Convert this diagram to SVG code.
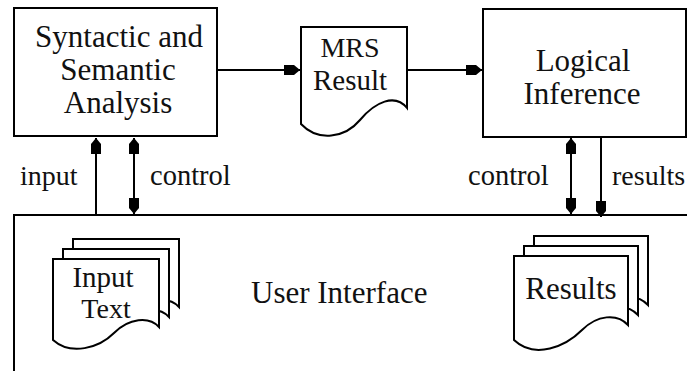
<svg xmlns="http://www.w3.org/2000/svg" width="687" height="371" viewBox="0 0 687 371">
<style>
.box{fill:#fff;stroke:#000;stroke-width:2}
.doc{fill:#fff;stroke:#000;stroke-width:2}
.ln{fill:none;stroke:#000;stroke-width:2}
text{fill:#111;font-family:'Liberation Serif','Times New Roman',serif}
.t{font-size:31px;text-anchor:middle}
.s{font-size:28px}
</style>
<defs>
<marker id="ah" viewBox="-17 -6 18 12" refX="0" refY="0" markerWidth="18" markerHeight="12" markerUnits="userSpaceOnUse" orient="auto-start-reverse">
<path d="M0,0 L-6,-5 L-16,-5 L-16,5 L-6,5 Z" fill="#000"/>
</marker>
<path id="docIT" d="M0,0 H106 V68 C96,57 76,59 61,74 C46,89 18,97 0,81 Z"/>
<path id="docR" d="M0,0 H114 V69 C103,57 83,59 68,74 C52,90 21,104 0,84 Z"/>
</defs>

<g id="user-interface">
<rect class="box" x="14" y="215" width="700" height="200"/>
<text x="251" y="303" style="font-size:31px">User Interface</text>
</g>

<g id="input-text">
<use href="#docIT" class="doc" x="73" y="239"/>
<use href="#docIT" class="doc" x="63" y="249"/>
<use href="#docIT" class="doc" x="53" y="259"/>
<text class="t" x="103" y="287" style="font-size:29px">Input</text>
<text class="t" x="106" y="318" style="font-size:28px">Text</text>
</g>

<g id="results">
<use href="#docR" class="doc" x="534" y="236"/>
<use href="#docR" class="doc" x="524" y="246"/>
<use href="#docR" class="doc" x="514" y="256"/>
<text class="t" x="571" y="299">Results</text>
</g>

<g id="syntactic">
<rect class="box" x="14" y="8" width="203" height="128"/>
<text class="t" x="119" y="47">Syntactic and</text>
<text class="t" x="118" y="80">Semantic</text>
<text class="t" x="118" y="113">Analysis</text>
</g>

<g id="mrs">
<path class="doc" d="M301,27 H407 V108 C395,93 375,102 360,120 C345,138 318,142 301,124 Z"/>
<text class="t" x="350" y="57" style="font-size:28px">MRS</text>
<text class="t" x="350" y="90" style="font-size:29px">Result</text>
</g>

<g id="logical">
<rect class="box" x="483" y="9" width="203" height="128"/>
<text class="t" x="583" y="71">Logical</text>
<text class="t" x="582" y="104">Inference</text>
</g>

<g id="connectors">
<line class="ln" x1="217" y1="70" x2="300" y2="70" marker-end="url(#ah)"/>
<line class="ln" x1="407" y1="70" x2="482" y2="70" marker-end="url(#ah)"/>
<line class="ln" x1="96" y1="215" x2="96" y2="138" marker-end="url(#ah)"/>
<line class="ln" x1="134" y1="138" x2="134" y2="214" marker-start="url(#ah)" marker-end="url(#ah)"/>
<line class="ln" x1="571" y1="138" x2="571" y2="214" marker-start="url(#ah)" marker-end="url(#ah)"/>
<line class="ln" x1="601" y1="137" x2="601" y2="217" marker-end="url(#ah)"/>
<text class="s" x="20" y="185">input</text>
<text class="s" x="150" y="185" style="font-size:28.5px">control</text>
<text class="s" x="468" y="185" style="font-size:28.5px">control</text>
<text class="s" x="612" y="185">results</text>
</g>
</svg>
